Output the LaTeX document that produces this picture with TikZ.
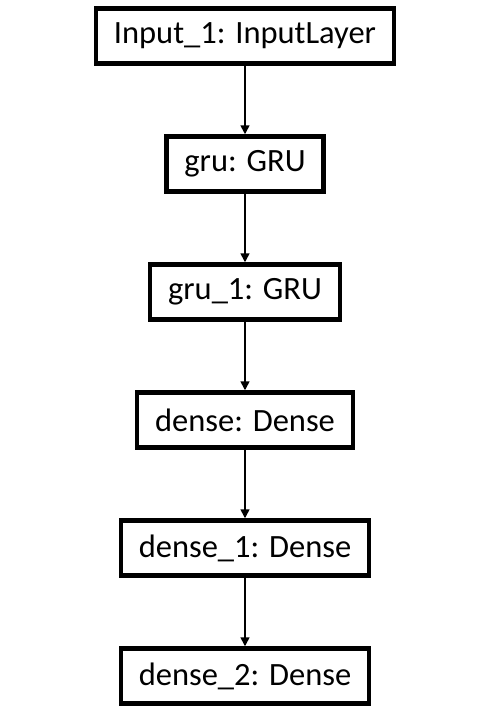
\documentclass[tikz,border=0pt]{standalone}
\usepackage{fontspec}
\setmainfont{Carlito}
\usetikzlibrary{arrows.meta}
\usetikzlibrary{positioning}

\begin{document}
\begin{tikzpicture}[->,>={Triangle[length=9pt,width=9pt]},line width=1.6pt,
			node distance=128pt,
			layer/.style={rectangle,draw,line width=4.5pt,minimum height=55pt,
				inner xsep=18pt,font=\fontsize{32.5}{39}\selectfont}]
			\useasboundingbox (0,0) rectangle (490pt,-717pt);
			
			\node[layer] (input) at (245pt,-36pt) {Input\_1: InputLayer};
			\node[layer] (gru) [below of=input] {gru: GRU};
			\node[layer] (gru1) [below of=gru] {gru\_1: GRU};
			\node[layer] (dense) [below of=gru1] {dense: Dense};
			\node[layer] (dense1) [below of=dense] {dense\_1: Dense};
			\node[layer] (dense2) [below of=dense1] {dense\_2: Dense};
			
			\path
			(input) edge (gru)
			(gru) edge (gru1)
			(gru1) edge (dense)
			(dense) edge (dense1)
			(dense1) edge (dense2);
		\end{tikzpicture}
\end{document}
